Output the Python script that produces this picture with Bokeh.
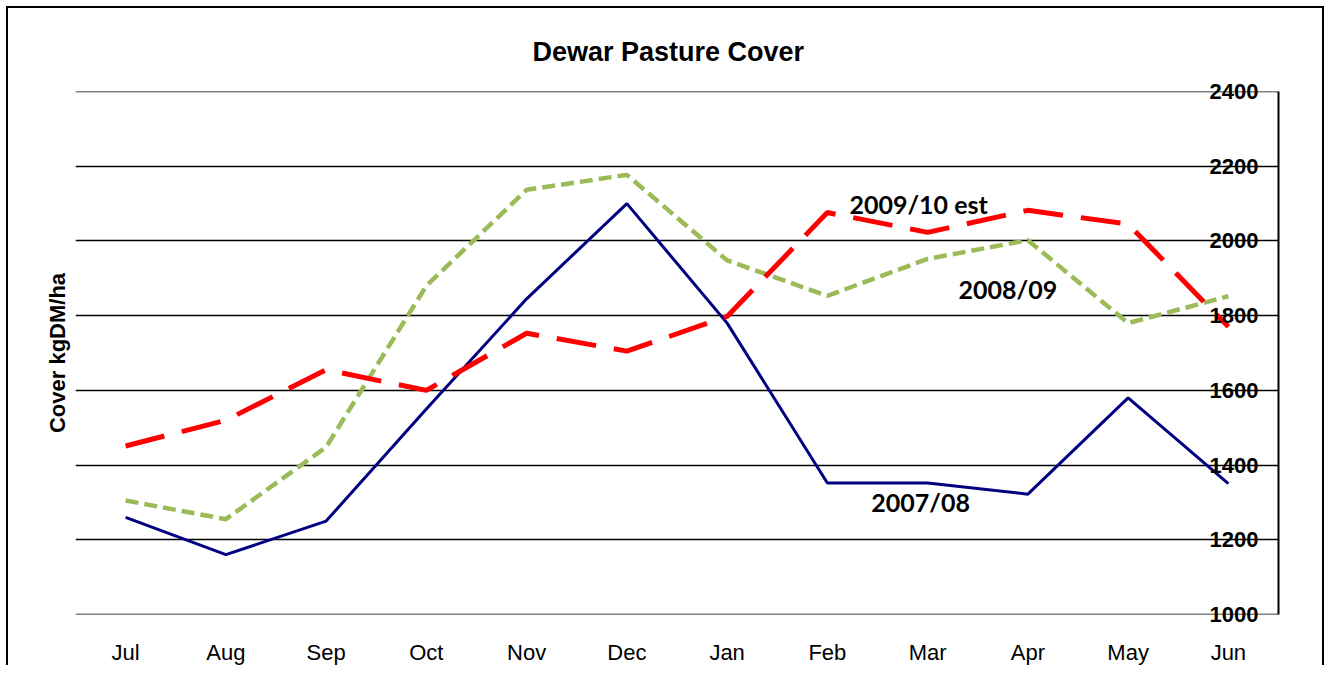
from bokeh.plotting import figure
from bokeh.models import FactorRange, Range1d, LinearAxis, FixedTicker
from bokeh.embed import file_html
from bokeh.resources import INLINE
from bokeh.core.properties import value

# ---- data ----
months = ["Jul", "Aug", "Sep", "Oct", "Nov", "Dec", "Jan", "Feb", "Mar", "Apr", "May", "Jun"]
cover_2007_08 = [1260, 1160, 1250, 1550, 1845, 2100, 1780, 1352, 1352, 1322, 1580, 1350]
cover_2008_09 = [1305, 1255, 1448, 1880, 2137, 2177, 1948, 1853, 1952, 2002, 1780, 1852]
cover_2009_10_est = [1451, 1520, 1655, 1600, 1753, 1705, 1798, 2076, 2023, 2082, 2045, 1770]
y_ticks = [1000, 1200, 1400, 1600, 1800, 2000, 2200, 2400]

series_labels = ["2007/08", "2008/09", "2009/10 est"]
label_months = ["Mar", "Apr", "Mar"]
label_values = [1302, 1872, 2098]
label_offsets = [-7, -20, -9]

p = figure(
    x_range=FactorRange(*months),
    y_range=Range1d(999.8, 2400.2),
    width=1318, height=659,
    output_backend="svg", toolbar_location=None,
    y_axis_location="right",
    min_border_left=67, min_border_right=48,
    min_border_top=83, min_border_bottom=48,
    title="Dewar Pasture Cover",
)
p.styles = {"border-left": "2px solid black", "border-top": "2px solid black",
            "border-right": "2px solid black",
            "margin-left": "6px", "margin-top": "6px"}
p.background_fill_color = "white"
p.border_fill_color = "white"
p.outline_line_color = None

p.title.align = "left"
p.title.offset = 457
p.title.standoff = 49
p.title.text_font = "Liberation Sans"
p.title.text_font_size = "27px"
p.title.text_font_style = "bold"
p.title.text_color = "black"

# x axis
xa = p.xaxis[0]
xa.axis_line_color = None
xa.major_tick_line_color = None
xa.minor_tick_line_color = None
xa.major_label_text_font = "Liberation Sans"
xa.major_label_text_font_size = "22px"
xa.major_label_text_color = "black"
xa.major_label_standoff = 19
p.xgrid.grid_line_color = None

# right value axis
ya = p.yaxis[0]
ya.ticker = FixedTicker(ticks=y_ticks)
ya.axis_line_color = "black"
ya.axis_line_width = 2
ya.major_tick_line_color = None
ya.minor_tick_line_color = None
ya.major_label_text_font = "Liberation Sans"
ya.major_label_text_font_size = "22px"
ya.major_label_text_font_style = "bold"
ya.major_label_text_color = "black"
ya.major_label_standoff = -75
p.ygrid.ticker = FixedTicker(ticks=y_ticks)
p.ygrid.grid_line_color = "black"
p.ygrid.grid_line_width = 1.6

# left axis title only
la = LinearAxis(ticker=FixedTicker(ticks=[]), axis_label="Cover kgDM/ha")
la.axis_line_color = None
la.major_tick_line_color = None
la.minor_tick_line_color = None
la.axis_label_text_font = "Liberation Sans"
la.axis_label_text_font_size = "22px"
la.axis_label_text_font_style = "bold"
la.axis_label_text_color = "black"
la.axis_label_standoff = 6
p.add_layout(la, "left")

# series
p.line(months, cover_2007_08, line_color="#000080", line_width=3)
p.line(months, cover_2008_09, line_color="#9BBB59", line_width=4.5, line_dash="13 6")
p.line(months, cover_2009_10_est, line_color="#FF0000", line_width=5, line_dash="40 18")

p.text(x=label_months, y=label_values, text=series_labels, x_offset=label_offsets,
       text_font=value("Lato"), text_font_style="bold", text_font_size="25px",
       text_color="black", text_align="center", text_baseline="middle")

open("out.html", "w").write(file_html(p, INLINE))
